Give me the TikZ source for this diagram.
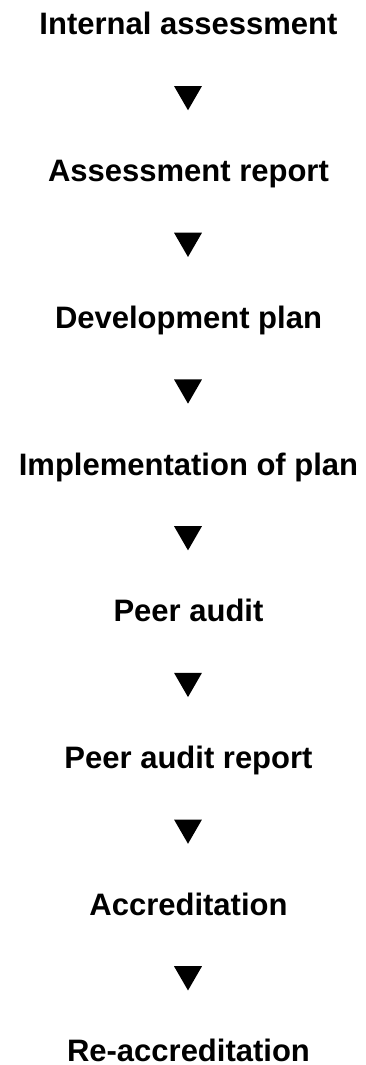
\documentclass[tikz,border=0pt]{standalone}
\usepackage{fontspec}
\setmainfont{Liberation Sans}
\usetikzlibrary{shapes.geometric}

\tikzset{
	stage/.style={anchor=base,inner sep=0pt,font=\fontsize{31}{36}\selectfont\bfseries},
	downmark/.style={regular polygon,regular polygon sides=3,shape border rotate=180,
		fill=black,inner sep=0pt,minimum size=32.3pt}
}

\begin{document}
\begin{tikzpicture}[x=1pt,y=-1pt]
	
	\useasboundingbox (0,0) rectangle (365,1065);
	
	% Draw nodes
	\node[stage] (IA) at (188.5,35) {Internal assessment};
	\node[stage] (AR) at (188.5,181.7) {Assessment report};
	\node[stage] (DP) at (188.5,328.4) {Development plan};
	\node[stage] (IP) at (188.5,475.1) {Implementation of plan};
	\node[stage] (PA) at (188.5,621.8) {Peer audit};
	\node[stage] (PAR) at (188.5,768.5) {Peer audit report};
	\node[stage] (AC) at (188.5,915.2) {Accreditation};
	\node[stage] (RAC) at (188.5,1061.5) {Re-accreditation};
	
	% Draw the triangles between the stages
	\node[downmark] (IA-AR) at (188,94.1) {};
	\node[downmark] (AR-DP) at (188,240.8) {};
	\node[downmark] (DP-IP) at (188,387.5) {};
	\node[downmark] (IP-PA) at (188,534.2) {};
	\node[downmark] (PA-PAR) at (188,680.9) {};
	\node[downmark] (PAR-AC) at (188,827.6) {};
	\node[downmark] (AC-RAC) at (188,974.3) {};
	
\end{tikzpicture}
\end{document}
